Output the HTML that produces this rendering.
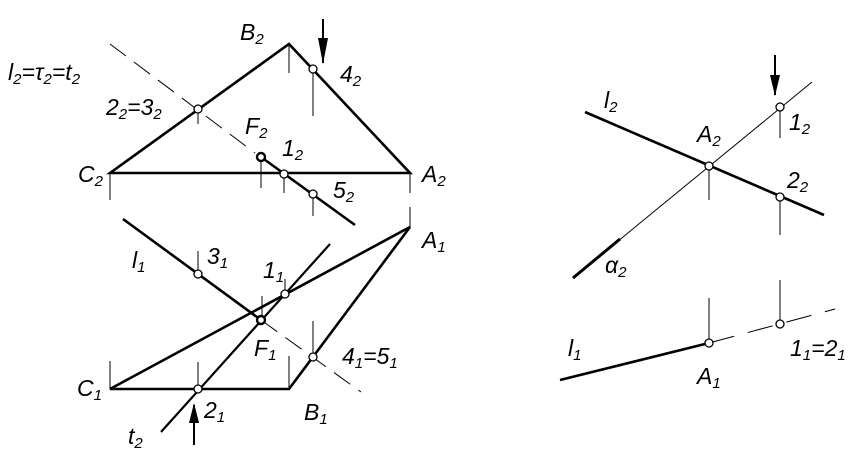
<!DOCTYPE html>
<html><head><style>
html,body{margin:0;padding:0;background:#fff}
svg{display:block}
text{font-family:"Liberation Sans",sans-serif;font-style:italic;font-size:23px;fill:#000}
.s{font-size:15px}
</style></head><body>
<svg width="854" height="465" viewBox="0 0 854 465">
<g stroke="#000" fill="none" stroke-linecap="butt">
<path d="M110 173 L289 44 L410 173 Z" stroke-width="2.6"/>
<path d="M261 157 L355 225" stroke-width="2.6"/>
<path d="M110 44 L255 153" stroke-width="1" stroke-dasharray="20,10"/>
<g stroke-width="1">
<path d="M289 44V73M313 69V116M198 109V124M261 157V188M284 174V193M313 194V216M110 173V200M410 173V193M410 207V226"/>
</g>
<path d="M110 389 L289 389 L410 227 Z" stroke-width="2.6"/>
<path d="M161 432 L330 244" stroke-width="2.2"/>
<path d="M123 219 L261 320" stroke-width="2.6"/>
<path d="M261 320 L361 392" stroke-width="1" stroke-dasharray="20,10"/>
<g stroke-width="1">
<path d="M110 361V389M198 362V389M198 251V274M262 296V320M285 279V294M289 356V389M313 321V357M410 207V227"/>
</g>
<path d="M585 112 L824 215" stroke-width="2.6"/>
<path d="M573 278 L812 82" stroke-width="1"/>
<path d="M573 278 L620 239" stroke-width="3"/>
<path d="M560 380 L709 343" stroke-width="2.6"/>
<path d="M709 343 L835 309" stroke-width="1" stroke-dasharray="26,14"/>
<g stroke-width="1">
<path d="M709 166V200M780 107V138M780 197V235M780 280V320M709 298V343"/>
</g>
<g fill="#fff" stroke-width="1.3">
<circle cx="313" cy="69" r="4"/><circle cx="198" cy="109" r="4"/>
<circle cx="284" cy="174" r="4"/><circle cx="313" cy="194" r="4"/>
<circle cx="198" cy="274" r="4"/><circle cx="285" cy="294" r="4"/>
<circle cx="313" cy="357" r="4"/><circle cx="198" cy="389" r="4"/>
<circle cx="709" cy="166" r="4"/><circle cx="780" cy="107" r="4"/>
<circle cx="780" cy="197" r="4"/><circle cx="709" cy="343" r="4"/>
<circle cx="780" cy="324" r="4"/>
</g>
<g fill="#fff" stroke-width="2.4">
<circle cx="261" cy="157" r="4"/><circle cx="261" cy="320" r="4"/>
</g>
<path d="M323 19V63M194 445V405M775 55V95" stroke-width="2"/>
</g>
<g fill="#000">
<path d="M318 38 L328 38 L323 64 Z"/>
<path d="M189 423 L199 423 L194 403 Z"/>
<path d="M770 75 L780 75 L775 96 Z"/>
</g>
<text x="240" y="40">B<tspan class="s" dy="4">2</tspan></text>
<text x="340" y="82">4<tspan class="s" dy="4">2</tspan></text>
<text x="8" y="80">l<tspan class="s" dy="4">2</tspan><tspan dy="-4">=τ</tspan><tspan class="s" dy="4">2</tspan><tspan dy="-4">=t</tspan><tspan class="s" dy="4">2</tspan></text>
<text x="106" y="115">2<tspan class="s" dy="4">2</tspan><tspan dy="-4">=3</tspan><tspan class="s" dy="4">2</tspan></text>
<text x="245" y="134">F<tspan class="s" dy="4">2</tspan></text>
<text x="282" y="156">1<tspan class="s" dy="4">2</tspan></text>
<text x="333" y="198">5<tspan class="s" dy="4">2</tspan></text>
<text x="78" y="182">C<tspan class="s" dy="4">2</tspan></text>
<text x="422" y="182">A<tspan class="s" dy="4">2</tspan></text>
<text x="422" y="248">A<tspan class="s" dy="4">1</tspan></text>
<text x="132" y="268">l<tspan class="s" dy="4">1</tspan></text>
<text x="207" y="264">3<tspan class="s" dy="4">1</tspan></text>
<text x="263" y="278">1<tspan class="s" dy="4">1</tspan></text>
<text x="254" y="356">F<tspan class="s" dy="4">1</tspan></text>
<text x="342" y="364">4<tspan class="s" dy="4">1</tspan><tspan dy="-4">=5</tspan><tspan class="s" dy="4">1</tspan></text>
<text x="77" y="396">C<tspan class="s" dy="4">1</tspan></text>
<text x="204" y="418">2<tspan class="s" dy="4">1</tspan></text>
<text x="304" y="420">B<tspan class="s" dy="4">1</tspan></text>
<text x="128" y="444">t<tspan class="s" dy="4">2</tspan></text>
<text x="604" y="108">l<tspan class="s" dy="4">2</tspan></text>
<text x="697" y="142">A<tspan class="s" dy="4">2</tspan></text>
<text x="789" y="130">1<tspan class="s" dy="4">2</tspan></text>
<text x="787" y="188">2<tspan class="s" dy="4">2</tspan></text>
<text x="605" y="273">α<tspan class="s" dy="4">2</tspan></text>
<text x="568" y="356">l<tspan class="s" dy="4">1</tspan></text>
<text x="697" y="384">A<tspan class="s" dy="4">1</tspan></text>
<text x="790" y="356">1<tspan class="s" dy="4">1</tspan><tspan dy="-4">=2</tspan><tspan class="s" dy="4">1</tspan></text>
</svg>
</body></html>
